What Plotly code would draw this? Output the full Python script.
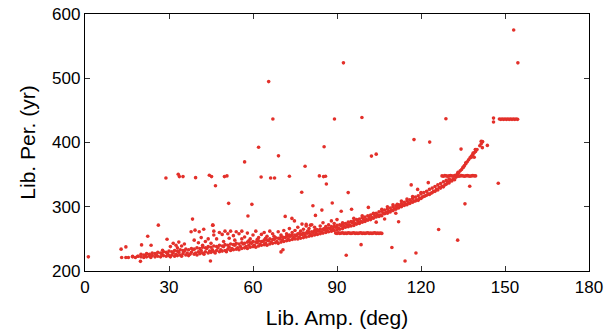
import plotly.graph_objects as go

# Dense main band (lower curve)
band_amp = [15.5,17,18,19,20,21,21.5,22,23,23.5,24,25,25.5,26,27,27.5,28,29,29.5,30,
            30.5,31,31.5,32,32.5,33,33.5,34,34.5,35,35.5,36,36.5,37,37.5,38,38.5,39,39.5,40,40.5,41,41.5,42,42.5,43,43.5,44,44.5,45,
            45.5,46,46.5,47,47.5,48,48.5,49,49.5,50,50.5,51,51.5,52,52.5,53,53.5,54,54.5,55,55.5,56,56.5,57,57.5,58,58.5,59,59.5,60,
            60.5,61,61.5,62,62.5,63,63.5,64,64.5,65,65.5,66,66.5,67,67.5,68,68.5,69,69.5,70,70.5,71,71.5,72,72.5,73,73.5,74,74.5,75,
            75.5,76,76.5,77,77.5,78,78.5,79,79.5,80,80.5,81,81.5,82,82.5,83,83.5,84,84.5,85,85.5,86,86.5,87,87.5,88,88.5,89,89.5,90,
            90.5,91,91.5,92,92.5,93,93.5,94,94.5,95,95.5,96,96.5,97,97.5,98,98.5,99,99.5,100,100.5,101,101.5,102,102.5,103,103.5,104,104.5,105,
            105.5,106,106.5,107,107.5,108,108.5,109,109.5,110,110.5,111,111.5,112,112.5,113,113.5,114,114.5,115,115.5,116,116.5,117,117.5,118,118.5,119,119.5,120,
            120.5,121,121.5,122,122.5,123,123.5,124,124.5,125,125.5,126,126.5,127,127.5,128,128.5,129,129.5,130,130.5,131,131.5,132,132.5,
            133,133.5,134,134.5,135,135.5,136,136.5,137,137.5,138,138.5,139,139.5,140,141,141.5,142]
band_per = [221,222,221,223,222,221,224,222,223,221,224,222,225,223,222,226,224,223,227,224,
            222,225,228,223,226,224,229,225,223,227,231,225,228,224,226,229,233,226,228,225,230,227,232,228,226,230,235,228,231,229,
            233,230,228,232,236,230,233,231,238,232,230,234,237,232,235,233,240,234,236,233,238,235,242,236,238,235,240,237,243,238,
            240,237,244,239,242,240,246,241,243,240,247,242,245,243,249,244,246,243,250,245,248,246,252,247,250,248,254,249,252,250,
            255,250,253,251,257,252,255,253,259,254,257,255,260,256,259,257,262,258,261,259,264,260,263,261,266,262,265,263,268,264,
            267,265,270,266,269,268,272,269,272,270,275,271,274,273,277,274,277,276,280,277,280,279,283,280,283,282,286,284,287,285,
            287,286,290,289,291,290,293,292,295,294,297,296,299,298,301,300,303,302,304,303,306,305,308,307,309,309,311,310,313,313,
            315,316,317,318,320,319,321,322,324,324,327,326,330,329,332,331,334,335,338,337,341,340,343,342,346,
            351,353,356,358,361,364,367,370,373,376,379,381,384,386,389,395,398,401]

# Second, slightly higher layer of the band
band2_amp = [20,21,22,23,24,25,26,27,28,29,30,31,32,33,34,35,36,37,38,39,40,41,42,43,44,45,46,47,48,49,
             50,51,52,53,54,55,56,57,58,59,60,61,62,63,64,65,66,67,68,69,70,71,72,73,74,75,76,77,78,79,
             80,81,82,83,84,85,86,87,88,89,90,91,92,93,94,95,96,97,98,99,100,101,102,103,104,105,106,107,108,109,
             110,111,112,113,114,115,116,117,118,119,120,121,122,123,124,125,126,127,128,129,130]
band2_per = [226,225,227,226,228,227,229,228,230,229,231,230,232,231,233,232,234,233,235,234,236,235,237,236,238,237,239,238,240,239,
             241,240,242,241,243,242,244,243,245,244,246,245,247,246,248,248,250,249,251,251,253,252,254,254,256,256,258,257,259,259,
             261,261,263,263,265,265,267,267,269,269,271,272,273,274,276,277,278,280,281,283,284,286,287,289,290,292,293,295,296,298,
             300,301,303,305,307,309,311,313,315,317,320,322,324,327,329,331.5,334,336,339,341,343]

# Scatter above / around the band
scat_amp = [1.2,12.9,14.6,13.1,14.6,17,18.8,19.8,20.2,22.4,23.6,26.2,29.3,27.7,
            30.5,31.5,32.5,33.5,34.5,35.5,33,37.9,39.3,40.8,42.4,45.6,38.4,44.8,
            39,40.5,41.5,43,44,45,46,42,
            46,48,49,50,51,52,53,54,55,56,57,58,59,60,61,62,63,64,65,66,67,68,69,70,
            71,72,73,74,75,76,77,78,79,80,81,82,83,84,85,86,87,88,89,90,
            47,49.5,51.5,53.5,56,58.5,61.5,64.5,67.5,70.5,73,76.5,79.5,82.5,85.5,
            51.3,59.6,58.2,81.4,84.6,88.3,71.5,73.9,74.8,82.3,45.7,77.5,79,80.5,70,70.7,
            92,96,99,103,106,108,110,113,115,117,120,107,111,104,
            91.5,95.2,101.2,94,111.5,112,135.7,126.3,133.1,98.6,109.6,118.2,114.3,93.3,
            122.6,116.5,118.8,137.4,147.6,129.9,130.5]
scat_per = [222,234,237.5,221,221,223,223,215,240.6,254,240,271.4,249.5,232.3,
            238,243,240,245,239,242,236,261,263.6,261,265,271.4,280.8,215.6,
            248,244,252,246,250,243,256,240,
            262,260,257,262,258,262,255,261,258,262,253,259,250,256,262,252,257,260,254,262,258,252,261,256,
            263,258,266,260,263,268,262,265,270,266,272,268,264,270,275,269,272,278,274,280,
            250,246,251,248,250,247,249,251,254,253,256,258,262,264,266,
            305.3,303.7,285.5,301.6,294.8,305.8,285,281.9,278,286.5,271.4,273,272.5,271.4,229.7,233,
            275,282,286,290,296,300,303,309,312,316,322,281,290,276,
            293,296,299,322,304,276.6,304.5,264.7,248,241,236.6,228,215.6,224.5,
            337.5,334,327,332,336.5,338,341.7]

# Outliers far above
high_amp = [28.9,33.3,33.7,35,39.5,44.4,45.2,46.6,49.8,50.7,57,62.9,66.3,67.7,69.1,73,77.4,78.6,
            83.7,85.2,85.9,86.2,62,85.4,65.6,67.1,89.1,92.3,153.1,154.6,98.9,
            102.3,104,117.5,123.1,134.3,139.4,141.5,141.9,143.7,141.9,128.9,145.9,145.9,
            133.2,135.1,136,137.9,138.2,139,138.6,139.5]
high_per = [344.8,350.6,346.9,346.9,345.3,349,346.9,332.8,346.9,348,369.8,346.4,344.8,344.8,379.2,347.5,322.5,363,
            348,346.9,347.5,335.5,392.5,393.3,494.8,436.6,436.6,524,575,524,439,
            378.8,381.9,404.5,400.6,389.7,389,402,401.5,395.5,392,437,438,432,
            353.8,361.6,368.3,377,378,377,383.4,388.6]

# Horizontal streaks
line1_amp = [89.5,90,90.5,91,91.5,92,92.5,93,93.5,94,94.5,95,95.5,96,96.5,97,97.5,98,98.5,99,99.5,100,100.5,101,101.5,102,102.5,103,103.5,104,104.5,105,105.5,106]
line1_per = [259,258.5,259.5,258.5,259,259.5,258.5,259,258.5,259.5,259,258.5,259,259.5,258.5,259,258.5,259,259.5,258.5,259,258.5,259,259.5,258.5,259,258.5,259,259.5,258.5,259,258.5,259,258.5]
line2_amp = [127.5,128,128.5,129,129.5,130,130.5,131,131.5,132,132.5,133,133.5,134,134.5,135,135.5,136,136.5,137,137.5,138,138.5,139,139.5]
line2_per = [348,347.5,348.5,348,347.5,348,348.5,348,347.5,348.5,349,348,347.5,348,348.5,348,347.5,348,348.5,348,347.5,348,348.5,348,348]
line3_amp = [148,148.5,149,149.5,150,150.5,151,151.5,152,152.5,153,153.5,154,154.5]
line3_per = [436.5,436,436.5,436,436.5,436,436.5,436,436.5,436,436.5,436,436.5,436]

amp = band_amp + band2_amp + scat_amp + high_amp + line1_amp + line2_amp + line3_amp
per = band_per + band2_per + scat_per + high_per + line1_per + line2_per + line3_per

fig = go.Figure(go.Scatter(
    x=amp, y=per, mode="markers",
    marker=dict(size=3.6, color="#e3302a", line=dict(width=0)),
    showlegend=False))

axis_common = dict(showgrid=False, zeroline=False, showline=True, linecolor="black",
                   linewidth=1.3, mirror="ticks", ticks="inside", ticklen=5,
                   tickcolor="#333333", tickwidth=1.2,
                   tickfont=dict(family="Liberation Sans, Arial, sans-serif", size=17, color="black"))

fig.update_xaxes(range=[0, 180], tickvals=[0, 30, 60, 90, 120, 150, 180],
                 title=dict(text="Lib. Amp. (deg)", standoff=14,
                            font=dict(family="Liberation Sans, Arial, sans-serif", size=21, color="black")),
                 **axis_common)
fig.update_yaxes(range=[200, 600], tickvals=[200, 300, 400, 500, 600],
                 title=dict(text="Lib. Per. (yr)", standoff=10,
                            font=dict(family="Liberation Sans, Arial, sans-serif", size=21, color="black")),
                 **axis_common)

fig.update_layout(width=612, height=331, margin=dict(l=85, r=23, t=14, b=60, autoexpand=False),
                  plot_bgcolor="white", paper_bgcolor="white")

fig.write_html("out.html")
